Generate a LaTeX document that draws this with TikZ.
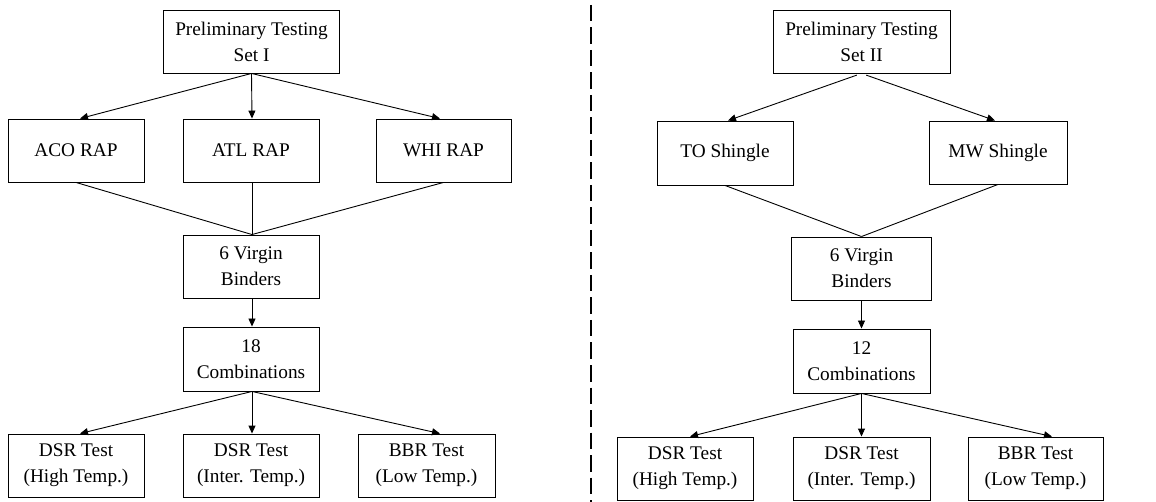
\documentclass[tikz,border=0pt]{standalone}
\usepackage{fontspec}
\setmainfont{Liberation Serif}
\usetikzlibrary{arrows.meta,calc}

\tikzset{
  stagebox/.style={draw, line width=0.9pt, align=center, inner sep=0pt,
    minimum width=136pt, minimum height=63pt,
    font=\rmfamily\fontsize{19.3}{26}\selectfont},
  headbox/.style={stagebox, minimum width=176pt},
  flow/.style={line width=0.9pt, -{Triangle[length=8pt,width=7pt]}},
  merge/.style={line width=0.9pt},
  divider/.style={line width=2pt, dash pattern=on 16.5pt off 6pt}
}

\begin{document}
\begin{tikzpicture}[x=1pt,y=-1pt]
\useasboundingbox (0,0) rectangle (1156,502);

% ---- Set I ----
\node[headbox] (top1) at (251.5,41.5) {Preliminary Testing\\Set I};
\node[stagebox] (aco) at (76,150.5) {ACO RAP};
\node[stagebox] (atl) at (251,150.5) {ATL RAP};
\node[stagebox, minimum width=135pt] (whi) at (443.5,150.5) {WHI RAP};
\node[stagebox] (vir1) at (251,266.5) {6 Virgin\\Binders};
\node[stagebox, minimum height=64pt] (comb1) at (251,359) {18\\Combinations};
\node[stagebox] (hi1) at (76,465.5) {DSR Test\\(High Temp.)};
\node[stagebox] (in1) at (251,465.5) {DSR Test\\(Inter. Temp.)};
\node[stagebox, minimum width=137pt] (lo1) at (426.5,465.5) {BBR Test\\(Low Temp.)};

\draw[flow] (top1.south) -- ($(aco.north)+(4,0)$);
\draw[flow] (top1.south) -- ($(atl.north)+(1,0)$);
\draw[flow] (top1.south) -- ($(whi.north)+(-3.5,0)$);
\draw[merge] (aco.south) -- ($(vir1.north)+(1,0)$);
\draw[merge] ($(atl.south)+(1,0)$) -- ($(vir1.north)+(1,0)$);
\draw[merge] (whi.south) -- ($(vir1.north)+(1,0)$);
\draw[flow] ($(vir1.south)+(1,0)$) -- ($(comb1.north)+(1,0)$);
\draw[flow] ($(comb1.south)+(1,0)$) -- ($(hi1.north)+(4,0)$);
\draw[flow] ($(comb1.south)+(1,0)$) -- ($(in1.north)+(1,0)$);
\draw[flow] ($(comb1.south)+(1,0)$) -- ($(lo1.north)+(13.5,0)$);

% ---- separator ----
\coordinate (sepTop) at (591,5);
\coordinate (sepBot) at (591,502);
\draw[divider] (sepTop) -- (sepBot);

% ---- Set II ----
\node[headbox, minimum width=177pt] (top2) at (861.5,41.5) {Preliminary Testing\\Set II};
\node[stagebox, minimum height=64pt] (tos) at (725,153) {TO Shingle};
\node[stagebox, minimum width=138pt] (mws) at (998,152.5) {MW Shingle};
\node[stagebox, minimum width=140pt] (vir2) at (861.5,268.5) {6 Virgin\\Binders};
\node[stagebox, minimum width=137pt, minimum height=64pt] (comb2) at (861.5,361) {12\\Combinations};
\node[stagebox] (hi2) at (685,468.5) {DSR Test\\(High Temp.)};
\node[stagebox, minimum width=137pt] (in2) at (861.5,468.5) {DSR Test\\(Inter. Temp.)};
\node[stagebox, minimum width=135pt] (lo2) at (1035.5,468.5) {BBR Test\\(Low Temp.)};

\draw[flow, shorten <=5pt] (top2.south) -- ($(tos.north)+(3,0)$);
\draw[flow, shorten <=5pt] (top2.south) -- ($(mws.north)+(-3,0)$);
\draw[merge] (tos.south) -- (vir2.north);
\draw[merge] (mws.south) -- (vir2.north);
\draw[flow] (vir2.south) -- (comb2.north);
\draw[flow] (comb2.south) -- ($(hi2.north)+(5,0)$);
\draw[flow] (comb2.south) -- (in2.north);
\draw[flow] (comb2.south) -- ($(lo2.north)+(16.5,0)$);
\end{tikzpicture}
\end{document}
